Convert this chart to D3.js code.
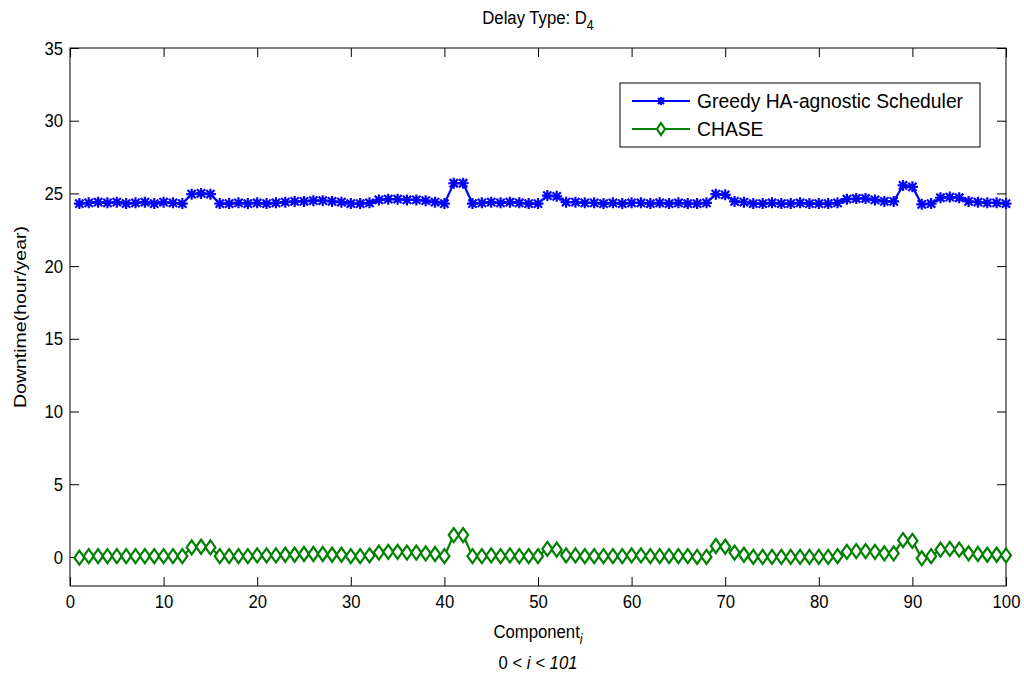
<!DOCTYPE html>
<html><head><meta charset="utf-8">
<script src="https://cdn.jsdelivr.net/npm/d3@7/dist/d3.min.js"></script>
<style>body{margin:0;background:#fff}text{font-family:"Liberation Sans",Arial,sans-serif;fill:#000}</style>
</head><body>
<svg id="c" width="1024" height="677"></svg>
<script>
const components = [1,2,3,4,5,6,7,8,9,10,11,12,13,14,15,16,17,18,19,20,21,22,23,24,25,26,27,28,29,30,31,32,33,34,35,36,37,38,39,40,41,42,43,44,45,46,47,48,49,50,51,52,53,54,55,56,57,58,59,60,61,62,63,64,65,66,67,68,69,70,71,72,73,74,75,76,77,78,79,80,81,82,83,84,85,86,87,88,89,90,91,92,93,94,95,96,97,98,99,100];
const greedy = [24.30,24.35,24.40,24.35,24.40,24.30,24.35,24.40,24.30,24.40,24.35,24.30,24.95,25.00,24.95,24.30,24.30,24.35,24.30,24.35,
24.30,24.35,24.40,24.45,24.45,24.50,24.50,24.45,24.40,24.30,24.30,24.35,24.55,24.60,24.60,24.55,24.55,24.50,24.40,24.30,
25.70,25.70,24.30,24.35,24.40,24.35,24.40,24.35,24.30,24.30,24.85,24.80,24.40,24.40,24.35,24.35,24.30,24.35,24.30,24.35,
24.35,24.30,24.35,24.30,24.35,24.30,24.30,24.35,24.95,24.90,24.45,24.40,24.30,24.30,24.35,24.30,24.30,24.35,24.30,24.30,
24.30,24.35,24.60,24.65,24.65,24.55,24.45,24.45,25.55,25.45,24.25,24.30,24.70,24.75,24.70,24.45,24.40,24.35,24.35,24.30];
const chase = [-0.05,0.05,0.05,0.05,0.05,0.05,0.05,0.05,0.05,0.05,0.05,0.05,0.65,0.70,0.65,0.05,0.05,0.05,0.05,0.10,
0.10,0.10,0.15,0.15,0.20,0.20,0.20,0.15,0.15,0.05,0.05,0.10,0.30,0.35,0.35,0.30,0.30,0.25,0.20,0.05,
1.50,1.50,0.05,0.05,0.10,0.05,0.10,0.05,0.05,0.05,0.55,0.50,0.10,0.10,0.05,0.05,0.05,0.05,0.05,0.10,
0.10,0.05,0.05,0.05,0.05,0.05,0.00,0.00,0.75,0.70,0.30,0.15,0.00,0.00,0.00,0.00,0.00,0.00,0.00,0.00,
0.00,0.05,0.35,0.40,0.40,0.35,0.25,0.25,1.15,1.10,-0.10,0.05,0.50,0.55,0.50,0.25,0.20,0.15,0.15,0.10];
const xTicks = [0,10,20,30,40,50,60,70,80,90,100];
const yTicks = [0,5,10,15,20,25,30,35];
const seriesNames = ["Greedy HA-agnostic Scheduler","CHASE"];

const svg = d3.select("#c");
const L=70,R=1006,T=48,B=586;
const x = d3.scaleLinear().domain([0,100]).range([L,R]);
const y = d3.scaleLinear().domain([-2,35]).range([B,T]);
const SX = "scale(0.88,1)";

const tk = 9;
function styleAxis(g){
  g.select(".domain").remove();
  g.selectAll("text").attr("font-size",19).attr("font-family",null).attr("transform",SX);
  g.selectAll("line").attr("stroke","#000");
}
svg.append("g").attr("transform",`translate(0,${B})`)
  .call(d3.axisBottom(x).tickValues(xTicks).tickSizeInner(-tk).tickSizeOuter(0).tickPadding(9))
  .call(styleAxis);
svg.append("g").attr("transform",`translate(0,${T})`)
  .call(d3.axisTop(x).tickValues(xTicks).tickSizeInner(-tk).tickSizeOuter(0).tickFormat(""))
  .call(styleAxis);
svg.append("g").attr("transform",`translate(${L},0)`)
  .call(d3.axisLeft(y).tickValues(yTicks).tickSizeInner(-tk).tickSizeOuter(0).tickPadding(8))
  .call(styleAxis);
svg.append("g").attr("transform",`translate(${R},0)`)
  .call(d3.axisRight(y).tickValues(yTicks).tickSizeInner(-tk).tickSizeOuter(0).tickFormat(""))
  .call(styleAxis);
svg.append("rect").attr("x",L).attr("y",T).attr("width",R-L).attr("height",B-T)
  .attr("fill","none").attr("stroke","#000").attr("stroke-width",1);

const line = d3.line().x((d,i)=>x(components[i])).y(d=>y(d));
const colors = ["#0000ff","#008000"];
const starPath = (r)=>{const k=r*0.75;return `M${-r},0L${r},0M0,${-r}L0,${r}M${-k},${-k}L${k},${k}M${-k},${k}L${k},${-k}`;};
const diamondPath = (w,h)=>`M0,${-h}L${w},0L0,${h}L${-w},0Z`;

function drawSeries(vals,ci,isStar){
  svg.append("path").datum(vals).attr("d",line).attr("fill","none")
    .attr("stroke",colors[ci]).attr("stroke-width",2.2);
  svg.append("g").selectAll("path").data(vals).join("path")
    .attr("transform",(d,i)=>`translate(${x(components[i])},${y(d)})`)
    .attr("d",isStar?starPath(5.5):diamondPath(5,7))
    .attr("fill",isStar?"none":"#fff").attr("stroke",colors[ci]).attr("stroke-width",2.2);
}
drawSeries(greedy,0,true);
drawSeries(chase,1,false);

const t = svg.append("g").attr("transform",`translate(${(L+R)/2},24)`)
  .append("text").attr("transform",SX).attr("text-anchor","middle").attr("font-size",19);
t.append("tspan").text("Delay Type: D");
t.append("tspan").attr("dy",6).attr("font-size",14).text("4");

const xl = svg.append("g").attr("transform",`translate(${(L+R)/2},638)`)
  .append("text").attr("transform",SX).attr("text-anchor","middle").attr("font-size",19);
xl.append("tspan").text("Component");
xl.append("tspan").attr("dy",6).attr("font-size",14).attr("font-style","italic").text("i");
const xl2 = svg.append("g").attr("transform",`translate(${(L+R)/2},669)`)
  .append("text").attr("transform",SX).attr("text-anchor","middle").attr("font-size",19);
xl2.append("tspan").text("0 < ");
xl2.append("tspan").attr("font-style","italic").text("i < 101");

svg.append("text").attr("transform",`translate(26,${(T+B)/2}) rotate(-90) scale(1,0.88)`).attr("text-anchor","middle")
  .attr("font-size",19.5).text("Downtime(hour/year)");

const lg = svg.append("g");
lg.append("rect").attr("x",620).attr("y",83).attr("width",360).attr("height",64).attr("fill","#fff").attr("stroke","#000");
seriesNames.forEach((n,i)=>{
  const yy = 101 + i*28;
  lg.append("line").attr("x1",632).attr("x2",690).attr("y1",yy).attr("y2",yy).attr("stroke",colors[i]).attr("stroke-width",2.2);
  lg.append("path").attr("transform",`translate(661,${yy})`).attr("d",i===0?starPath(4):diamondPath(4,6))
    .attr("fill",i===0?"none":"#fff").attr("stroke",colors[i]).attr("stroke-width",2.2);
  lg.append("g").attr("transform",`translate(697,${yy+7})`)
    .append("text").attr("transform","scale(0.92,1)").attr("font-size",21).text(n);
});
</script>
</body></html>
